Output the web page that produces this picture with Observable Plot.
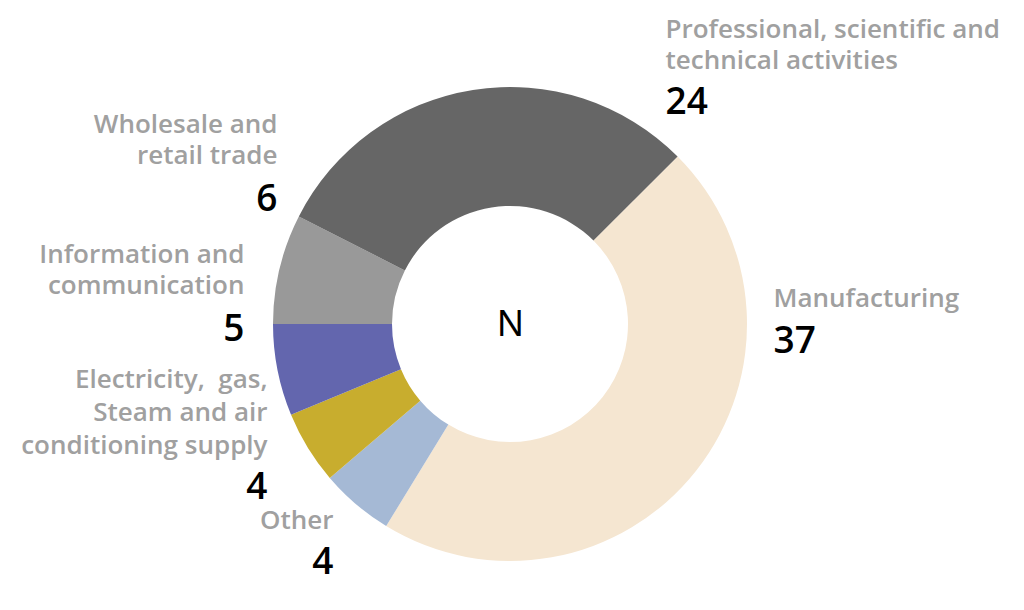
<!DOCTYPE html>
<html><head><meta charset="utf-8">
<script src="https://cdn.jsdelivr.net/npm/d3@7"></script>
<script src="https://cdn.jsdelivr.net/npm/@observablehq/plot@0.6"></script>
<style>body{margin:0;background:#fff} #chart{width:1024px;height:610px}</style>
</head><body><div id="chart"></div>
<script>
// ---- data ----
const categories = ["Manufacturing", "Other", "Electricity,\u00a0 gas,\nSteam and air\nconditioning supply", "Information and\ncommunication", "Wholesale and\nretail trade", "Professional, scientific and\ntechnical activities"];
const values = [37, 4, 4, 5, 6, 24];
const colors = ["#f5e6d1", "#a5b9d5", "#c8ad2e", "#6366ae", "#999999", "#666666"];
const centerLabel = "N";

// ---- layout (pixels) ----
const cx = 510, cy = 324, rOuter = 237, rInner = 118, startDeg = 45;
const labelFontSize = 26;
const labelLayout = [
  {x: 773, y: 306, anchor: "start", gap: 31.5, ny: 352},
  {x: 333, y: 528, anchor: "end", gap: 31.5, ny: 573},
  {x: 267, y: 387, anchor: "end", gap: 33, ny: 498},
  {x: 244, y: 262, anchor: "end", gap: 31.5, ny: 340},
  {x: 277, y: 132, anchor: "end", gap: 31.5, ny: 210},
  {x: 665, y: 37, anchor: "start", gap: 31.5, ny: 113}
];

const rows = categories.map((c, i) => {
  const n = c.split("\n").length;
  const L = labelLayout[i];
  return {category: c, value: values[i], ...L, ly: L.y + (n - 1) * L.gap};
});
const color = Plot.scale({color: {type: "ordinal", domain: categories, range: colors}});

const a0 = startDeg * Math.PI / 180;
const arcs = d3.pie().sort(null).value(d => d.value).startAngle(a0).endAngle(a0 + 2 * Math.PI)(rows);

function donut(index, scales) {
  const arc = d3.arc().innerRadius(rInner).outerRadius(rOuter);
  const g = d3.create("svg:g").attr("transform", `translate(${scales.x(cx)},${scales.y(cy)})`);
  g.selectAll("path").data(arcs).join("path")
    .attr("d", arc)
    .attr("fill", d => color.apply(d.data.category));
  return g.node();
}

const labelFont = {fontFamily: "Open Sans", fontSize: labelFontSize, fontWeight: 600, fill: "#a0a0a0", lineAnchor: "bottom"};
const numFont = {fontFamily: "Open Sans", fontSize: 37, fontWeight: 600, fill: "#000", lineAnchor: "bottom"};

function labels(anchor, gap) {
  return Plot.text(rows.filter(d => d.anchor === anchor && d.gap === gap),
    {x: "x", y: "ly", text: "category", textAnchor: anchor, lineHeight: gap / labelFontSize, ...labelFont});
}

const chart = Plot.plot({
  width: 1024, height: 610, margin: 0,
  x: {domain: [0, 1024], range: [0, 1024], axis: null},
  y: {domain: [0, 610], range: [0, 610], axis: null},
  style: {background: "#fff"},
  marks: [
    donut,
    labels("start", 31.5),
    labels("end", 31.5),
    labels("end", 33),
    Plot.text(rows.filter(d => d.anchor === "start"), {x: "x", y: "ny", text: "value", textAnchor: "start", ...numFont}),
    Plot.text(rows.filter(d => d.anchor === "end"), {x: "x", y: "ny", text: "value", textAnchor: "end", ...numFont}),
    Plot.text([{t: centerLabel}], {x: () => cx, y: () => cy, text: "t", fontFamily: "Noto Sans", fontSize: 36, fill: "#000"})
  ]
});
document.getElementById("chart").appendChild(chart);
</script>
</body></html>
